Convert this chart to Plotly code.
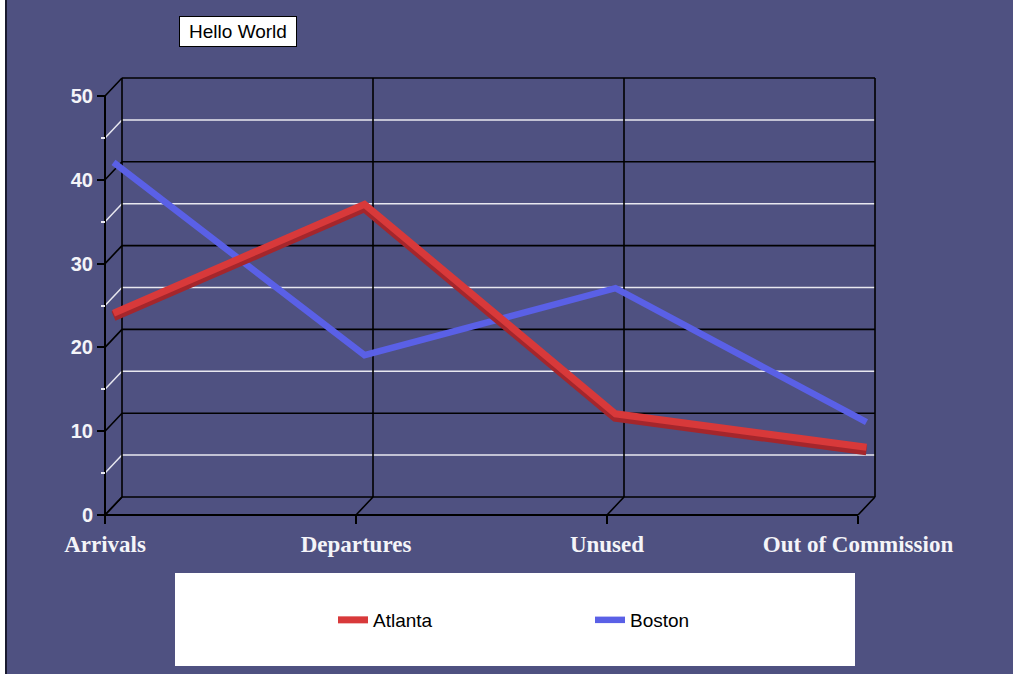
import plotly.graph_objects as go

# ---- data -------------------------------------------------------------
categories = ["Arrivals", "Departures", "Unused", "Out of Commission"]
atlanta = [23, 36, 11, 7]
boston = [41, 18, 26, 10]
y_major = [0, 10, 20, 30, 40, 50]
y_minor = [5, 15, 25, 35, 45]

# ---- page / projection settings --------------------------------------
W, H = 1013, 674
BG = "#4f5181"
PX0, PXX = 105, 251.0      # pixel of x=0 and pixels per category step
PY0, PYY = 515, 8.38       # pixel of y=0 and pixels per unit
DEPTH_X = 17 / PXX         # depth offset of the back wall (data units)
DEPTH_Y = 18 / PYY

XR = [-0.1, 3.2]
YR = [-1.5, 54.0]
x_dom = [(PX0 + XR[0] * PXX) / W, (PX0 + XR[1] * PXX) / W]
y_dom = [1 - (PY0 - YR[0] * PYY) / H, 1 - (PY0 - YR[1] * PYY) / H]

xs = list(range(len(categories)))
n_last = xs[-1]

fig = go.Figure()

# lines sit half way into the depth of the box
mid_x = [x + DEPTH_X / 2 for x in xs]
atl_y = [v + DEPTH_Y / 2 for v in atlanta]
bos_y = [v + DEPTH_Y / 2 for v in boston]

fig.add_trace(go.Scatter(
    x=mid_x, y=bos_y, mode="lines", name="Boston",
    line=dict(color="#5a60e6", width=6.5), cliponaxis=False,
    legendrank=2,
))
# darker underside of the Atlanta ribbon
fig.add_trace(go.Scatter(
    x=mid_x, y=[v - 0.35 for v in atl_y], mode="lines", showlegend=False,
    line=dict(color="#a4262c", width=10), cliponaxis=False, hoverinfo="skip",
))
fig.add_trace(go.Scatter(
    x=mid_x, y=atl_y, mode="lines", name="Atlanta",
    line=dict(color="#d8393a", width=7), cliponaxis=False,
    legendrank=1,
))

shapes = []


def seg(x0, y0, x1, y1, color="black", width=1.6):
    shapes.append(dict(type="line", xref="x", yref="y", x0=x0, y0=y0,
                       x1=x1, y1=y1, line=dict(color=color, width=width),
                       layer="below"))


# back wall horizontal lines and depth diagonals
for v in y_minor:
    seg(DEPTH_X, v + DEPTH_Y, n_last + DEPTH_X, v + DEPTH_Y, "#e8e8f0", 1.5)
    seg(0, v, DEPTH_X, v + DEPTH_Y, "#e8e8f0", 1.5)
for v in y_major:
    seg(DEPTH_X, v + DEPTH_Y, n_last + DEPTH_X, v + DEPTH_Y)
    seg(0, v, DEPTH_X, v + DEPTH_Y)
# back wall verticals and floor diagonals
for x in xs:
    seg(x + DEPTH_X, DEPTH_Y, x + DEPTH_X, y_major[-1] + DEPTH_Y)
    seg(x, 0, x + DEPTH_X, DEPTH_Y)
# front axes
seg(0, 0, n_last, 0, width=2)
seg(0, 0, 0, y_major[-1], width=2)

# legend panel and left page edge
shapes.append(dict(type="rect", xref="paper", yref="paper",
                   x0=175 / W, x1=855 / W, y0=1 - 666 / H, y1=1 - 573 / H,
                   fillcolor="white", line=dict(width=0), layer="below"))
shapes.append(dict(type="rect", xref="paper", yref="paper",
                   x0=0, x1=5 / W, y0=0, y1=1,
                   fillcolor="white", line=dict(width=0), layer="above"))
shapes.append(dict(type="line", xref="paper", yref="paper",
                   x0=6 / W, x1=6 / W, y0=0, y1=1,
                   line=dict(color="#1a1a30", width=2), layer="above"))

fig.update_layout(
    width=W, height=H, autosize=False,
    margin=dict(l=0, r=0, t=0, b=0, pad=0, autoexpand=False),
    paper_bgcolor=BG, plot_bgcolor=BG,
    shapes=shapes,
    xaxis=dict(
        domain=x_dom, range=XR, anchor="free", position=1 - PY0 / H,
        showgrid=False, zeroline=False, showline=False,
        tickmode="array", tickvals=xs, ticktext=categories,
        ticks="outside", ticklen=8, tickwidth=2, tickcolor="black",
        tickfont=dict(family="Liberation Serif", size=23, color="#f4f4f8",
                      weight="bold"),
        fixedrange=True,
    ),
    yaxis=dict(
        domain=y_dom, range=YR, anchor="free", position=PX0 / W,
        showgrid=False, zeroline=False, showline=False,
        tickmode="array", tickvals=y_major,
        ticks="outside", ticklen=8, tickwidth=2, tickcolor="black",
        tickfont=dict(family="Liberation Sans", size=20, color="#f4f4f8",
                      weight="bold"),
        minor=dict(tickvals=y_minor, ticks="outside", ticklen=4,
                   tickwidth=1.5, tickcolor="#e8e8f0", showgrid=False),
        fixedrange=True,
    ),
    showlegend=True,
    legend=dict(
        orientation="h", x=333 / W, xanchor="left",
        y=1 - 620 / H, yanchor="middle",
        bgcolor="rgba(0,0,0,0)", borderwidth=0,
        font=dict(family="Liberation Sans", size=19, color="black"),
        entrywidth=212, entrywidthmode="pixels",
        traceorder="normal",
    ),
    annotations=[dict(
        text="Hello World", xref="paper", yref="paper",
        x=238 / W, y=1 - 32 / H, xanchor="center", yanchor="middle",
        showarrow=False, bgcolor="white", bordercolor="black",
        borderwidth=1, borderpad=4, width=108,
        font=dict(family="Liberation Sans", size=19, color="black"),
    )],
)

fig.write_html("out.html")
